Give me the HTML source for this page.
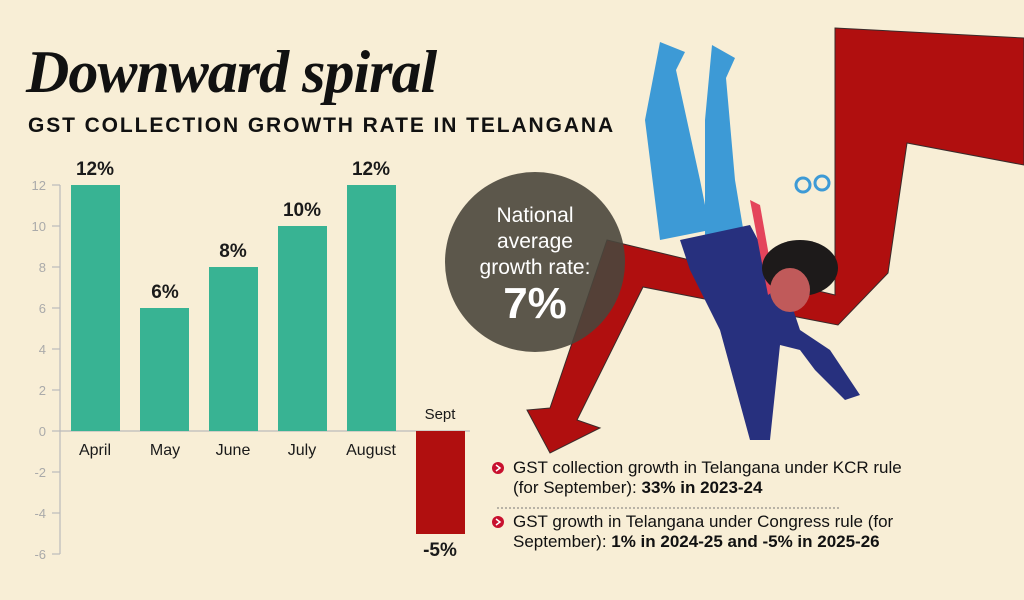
<!DOCTYPE html>
<html><head><style>
body{margin:0;width:1024px;height:600px;background:#f8eed6;overflow:hidden;position:relative;font-family:"Liberation Sans",sans-serif}
.t{position:absolute;white-space:nowrap}
</style></head><body>
<svg width="1024" height="600" style="position:absolute;left:0;top:0">
<polygon points="835,28 1024,38 1024,165 907,143 888,273 838,325 643,287 577,420 600,428 550,453 527,410 550,408 607,240 835,295" fill="#b00f0f" stroke="#3a2a2a" stroke-width="1"/>
<circle cx="535" cy="262" r="90" fill="#4a463c" opacity="0.9"/>
<polygon points="660,42 685,52 676,70 700,180 710,230 660,240 645,120" fill="#3d9ad6"/>
<polygon points="712,45 735,58 726,78 735,180 745,240 705,235 705,120" fill="#3d9ad6"/>
<polygon points="680,240 750,225 790,300 800,330 830,350 860,395 845,400 815,370 800,350 780,345 770,440 750,440 720,330 690,270" fill="#27307e"/>
<polygon points="750,200 760,205 775,290 768,295" fill="#e4445b"/>
<ellipse cx="800" cy="268" rx="38" ry="28" fill="#1d1a1a"/>
<ellipse cx="790" cy="290" rx="20" ry="22" fill="#c05a5a"/>
<circle cx="803" cy="185" r="7" fill="none" stroke="#3d9ad6" stroke-width="3"/>
<circle cx="822" cy="183" r="7" fill="none" stroke="#3d9ad6" stroke-width="3"/>
<g stroke="#bbb" stroke-width="1.2">
<line x1="60" y1="185" x2="60" y2="554"/>
<line x1="52" y1="185" x2="60" y2="185"/><line x1="52" y1="226" x2="60" y2="226"/><line x1="52" y1="267" x2="60" y2="267"/><line x1="52" y1="308" x2="60" y2="308"/><line x1="52" y1="349" x2="60" y2="349"/><line x1="52" y1="390" x2="60" y2="390"/><line x1="52" y1="431" x2="60" y2="431"/><line x1="52" y1="472" x2="60" y2="472"/><line x1="52" y1="513" x2="60" y2="513"/><line x1="52" y1="554" x2="60" y2="554"/>
<line x1="60" y1="431" x2="470" y2="431"/>
</g>
<g fill="#aaa" font-size="13" text-anchor="end" font-family="Liberation Sans">
<text x="46" y="190">12</text><text x="46" y="231">10</text><text x="46" y="272">8</text><text x="46" y="313">6</text><text x="46" y="354">4</text><text x="46" y="395">2</text><text x="46" y="436">0</text><text x="46" y="477">-2</text><text x="46" y="518">-4</text><text x="46" y="559">-6</text>
</g>
<g fill="#38b393">
<rect x="71" y="185" width="49" height="246"/>
<rect x="140" y="308" width="49" height="123"/>
<rect x="209" y="267" width="49" height="164"/>
<rect x="278" y="226" width="49" height="205"/>
<rect x="347" y="185" width="49" height="246"/>
</g>
<rect x="416" y="431" width="49" height="103" fill="#b00f0f"/>
<g font-size="19" font-weight="bold" text-anchor="middle" fill="#1a1a1a" font-family="Liberation Sans">
<text x="95" y="175">12%</text><text x="165" y="298">6%</text><text x="233" y="257">8%</text><text x="302" y="216">10%</text><text x="371" y="175">12%</text><text x="440" y="556">-5%</text>
</g>
<g font-size="16" text-anchor="middle" fill="#1a1a1a" font-family="Liberation Sans">
<text x="95" y="455">April</text><text x="165" y="455">May</text><text x="233" y="455">June</text><text x="302" y="455">July</text><text x="371" y="455">August</text><text x="440" y="419" font-size="15">Sept</text>
</g>
<g fill="#fff" text-anchor="middle" font-family="Liberation Sans">
<text x="535" y="222" font-size="21">National</text>
<text x="535" y="248" font-size="21">average</text>
<text x="535" y="274" font-size="21">growth rate:</text>
<text x="535" y="318" font-size="44" font-weight="bold">7%</text>
</g>
<circle cx="498" cy="468" r="6" fill="#c8102e"/><path d="M496,465 L500,468 L496,471" stroke="#fff" stroke-width="1.5" fill="none"/>
<circle cx="498" cy="522" r="6" fill="#c8102e"/><path d="M496,519 L500,522 L496,525" stroke="#fff" stroke-width="1.5" fill="none"/>
<line x1="497" y1="508" x2="840" y2="508" stroke="#777" stroke-dasharray="2,2"/>
</svg>
<div class="t" style="left:26px;top:38px;font-family:'Liberation Serif',serif;font-weight:bold;font-style:italic;font-size:60px;color:#111;letter-spacing:-1px">Downward spiral</div>
<div class="t" style="left:28px;top:114px;font-weight:bold;font-size:21px;letter-spacing:1.9px;color:#111">GST COLLECTION GROWTH RATE IN TELANGANA</div>
<div class="t" style="left:513px;top:458px;font-size:17px;line-height:20px;color:#111">GST collection growth in Telangana under KCR rule<br>(for September): <b>33% in 2023-24</b></div>
<div class="t" style="left:513px;top:512px;font-size:17px;line-height:20px;color:#111">GST growth in Telangana under Congress rule (for<br>September): <b>1% in 2024-25 and -5% in 2025-26</b></div>
</body></html>
